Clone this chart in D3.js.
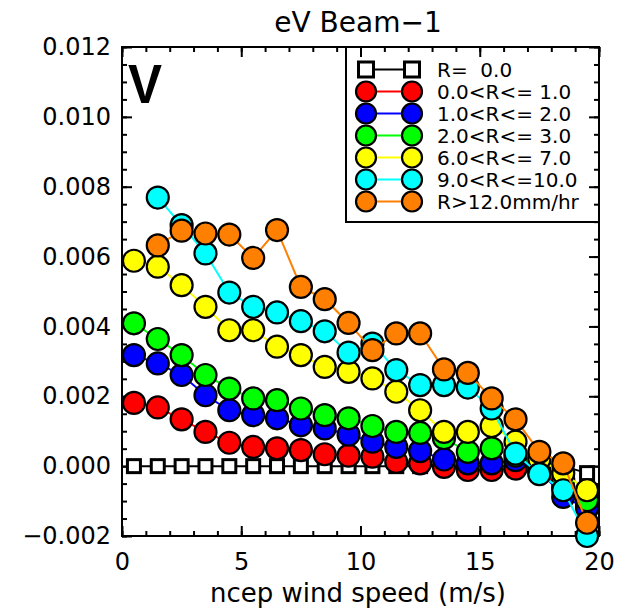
<!DOCTYPE html>
<html>
<head>
<meta charset="utf-8">
<script src="https://cdn.jsdelivr.net/npm/d3@7"></script>
<style>
  body { margin: 0; background: #fff; }
  svg text { font-family: 'DejaVu Sans', sans-serif; fill: #000; }
</style>
</head>
<body>
<script>
// bin centres of the wind speed (m/s)
var windSpeed = [0.5, 1.5, 2.5, 3.5, 4.5, 5.5, 6.5, 7.5, 8.5, 9.5,
                 10.5, 11.5, 12.5, 13.5, 14.5, 15.5, 16.5, 17.5, 18.5, 19.5];

var rain0  = [0, 0, 0, 0, 0, 0, 0, 0, 0, 0,
              0, 0, 0, 0, 0, 0, 0, 0, 0, -0.0002];
var rain1  = [0.00181, 0.00168, 0.00134, 0.00098, 0.00067, 0.00055, 0.00051, 0.00046, 0.00034, 0.00030,
              0.00027, 0.00012, 0.00008, -0.00002, -0.00011, -0.00011, -0.00007, -0.0002, -0.0006, -0.0011];
var rain2  = [0.00318, 0.00294, 0.00261, 0.00203, 0.00160, 0.00146, 0.00137, 0.00117, 0.00108, 0.00090,
              0.00070, 0.00055, 0.00043, 0.00019, 0.00008, 0.00008, 0.00017, -0.0001, -0.00088, -0.00121];
var rain3  = [0.00409, 0.00364, 0.00318, 0.00261, 0.00222, 0.00194, 0.00189, 0.00165, 0.00146, 0.00137,
              0.00115, 0.00098, 0.00095, 0.00080, 0.00041, 0.00051, 0.00030, 0.0000, -0.0004, -0.00097];
var rain7  = [0.00588, 0.00571, 0.00518, 0.00456, 0.00389, 0.00389, 0.00342, 0.00318, 0.00284, 0.00270,
              0.00251, 0.00213, 0.00160, 0.00098, 0.00098, 0.00115, 0.00070, 0.0002, -0.0002, -0.00069];
var rain10 = [null, 0.00769, 0.00690, 0.00609, 0.00497, 0.00456, 0.00440, 0.00415, 0.00386, 0.00325,
              0.00351, 0.00275, 0.00232, 0.00232, 0.00225, 0.00165, 0.00036, -0.00023, -0.00069, -0.0020];
var rain12 = [null, 0.00632, 0.00674, 0.00666, 0.00663, 0.00596, 0.00676, 0.00513, 0.00478, 0.00410,
              0.00332, 0.00380, 0.00380, 0.00277, 0.00267, 0.00194, 0.00134, 0.00041, 0.00008, -0.00162];

var legendLabels = ['R=  0.0', '0.0<R<= 1.0', '1.0<R<= 2.0', '2.0<R<= 3.0',
                    '6.0<R<= 7.0', '9.0<R<=10.0', 'R>12.0mm/hr'];
var xTicks = [0, 5, 10, 15, 20];
var yTicks = [-0.002, 0, 0.002, 0.004, 0.006, 0.008, 0.010, 0.012];

var colors = ['#ffffff', '#ff0000', '#0000ff', '#00ff00', '#ffff00', '#00ffff', '#ff7f00'];
var lineColors = ['#000000', '#ff0000', '#0000ff', '#00ff00', '#ffff00', '#00ffff', '#ff7f00'];
var allSeries = [rain0, rain1, rain2, rain3, rain7, rain10, rain12];

var svgWidth = 617, svgHeight = 612,
    margin = { top: 47, right: 18, bottom: 76, left: 122 },
    chartWidth  = svgWidth  - margin.left - margin.right,
    chartHeight = svgHeight - margin.top  - margin.bottom;

var x = d3.scaleLinear().domain([0, 20]).range([0, chartWidth]);
var y = d3.scaleLinear().domain([-0.002, 0.012]).range([chartHeight, 0]);

var svg = d3.select('body').append('svg')
  .attr('width', svgWidth)
  .attr('height', svgHeight);

var g = svg.append('g')
  .attr('transform', 'translate(' + margin.left + ',' + margin.top + ')');

function styleAxis (sel) {
  sel.select('.domain').remove();
  sel.selectAll('.tick line').attr('stroke', '#000').attr('stroke-width', 2);
  sel.selectAll('text').attr('font-size', 24).attr('font-family', 'DejaVu Sans');
}

function addAxes () {
  var minorX = d3.range(0, 21, 1), minorY = d3.range(-0.002, 0.01201, 0.0005);

  // bottom / top
  g.append('g').attr('transform', 'translate(0,' + chartHeight + ')')
    .call(d3.axisBottom(x).tickValues(minorX).tickSize(-5).tickFormat(''))
    .call(styleAxis);
  g.append('g').attr('transform', 'translate(0,' + chartHeight + ')')
    .call(d3.axisBottom(x).tickValues(xTicks).tickSizeInner(-10).tickSizeOuter(0).tickPadding(17).tickFormat(d3.format('d')))
    .call(styleAxis);
  g.append('g')
    .call(d3.axisTop(x).tickValues(minorX).tickSize(-5).tickFormat(''))
    .call(styleAxis);
  g.append('g')
    .call(d3.axisTop(x).tickValues(xTicks).tickSize(-10).tickFormat(''))
    .call(styleAxis);

  // left / right
  g.append('g')
    .call(d3.axisLeft(y).tickValues(minorY).tickSize(-5).tickFormat(''))
    .call(styleAxis);
  g.append('g')
    .call(d3.axisLeft(y).tickValues(yTicks).tickSizeInner(-10).tickSizeOuter(0).tickPadding(11).tickFormat(d3.format('.3f')))
    .call(styleAxis);
  g.append('g').attr('transform', 'translate(' + chartWidth + ',0)')
    .call(d3.axisRight(y).tickValues(minorY).tickSize(-5).tickFormat(''))
    .call(styleAxis);
  g.append('g').attr('transform', 'translate(' + chartWidth + ',0)')
    .call(d3.axisRight(y).tickValues(yTicks).tickSize(-10).tickFormat(''))
    .call(styleAxis);

  g.append('rect')
    .attr('width', chartWidth)
    .attr('height', chartHeight)
    .attr('fill', 'none')
    .attr('stroke', '#000')
    .attr('stroke-width', 2);
}

function drawSymbol (sel, i, size) {
  if (i === 0) {
    sel.append('rect')
      .attr('x', -size / 2).attr('y', -size / 2)
      .attr('width', size).attr('height', size)
      .attr('fill', '#fff')
      .attr('stroke', '#000')
      .attr('stroke-width', 3);
  } else {
    sel.append('circle')
      .attr('r', size)
      .attr('fill', colors[i])
      .attr('stroke', '#000')
      .attr('stroke-width', 2.2);
  }
}

function drawSeries () {
  allSeries.forEach(function (values, i) {
    var pts = windSpeed.map(function (w, k) { return { w: w, v: values[k] }; })
      .filter(function (d) { return d.v !== null; });

    var line = d3.line()
      .x(function (d) { return x(d.w); })
      .y(function (d) { return y(d.v); });

    g.append('path')
      .datum(pts)
      .attr('d', line)
      .attr('fill', 'none')
      .attr('stroke', lineColors[i])
      .attr('stroke-width', 2);

    g.selectAll('.pt' + i)
      .data(pts)
      .enter().append('g')
      .attr('class', 'pt' + i)
      .attr('transform', function (d) { return 'translate(' + x(d.w) + ',' + y(d.v) + ')'; })
      .each(function () { drawSymbol(d3.select(this), i, i === 0 ? 13 : 11); });
  });
}

function drawLegend () {
  var lg = svg.append('g');
  lg.append('path')
    .attr('d', 'M346,47V222H599')
    .attr('fill', 'none')
    .attr('stroke', '#000')
    .attr('stroke-width', 2);

  legendLabels.forEach(function (label, i) {
    var yy = 69.5 + i * 22;
    lg.append('line')
      .attr('x1', 366).attr('x2', 412)
      .attr('y1', yy).attr('y2', yy)
      .attr('stroke', lineColors[i])
      .attr('stroke-width', 2);
    [366, 412].forEach(function (xx) {
      var s = lg.append('g').attr('transform', 'translate(' + xx + ',' + yy + ')');
      drawSymbol(s, i, i === 0 ? 15 : 10);
    });
    lg.append('text')
      .attr('x', 437)
      .attr('y', yy)
      .attr('dy', '0.36em')
      .attr('font-size', 20)
      .style('white-space', 'pre')
      .text(label);
  });
}

addAxes();
drawSeries();
drawLegend();

svg.append('text')
  .attr('x', 358).attr('y', 32)
  .attr('text-anchor', 'middle')
  .attr('font-size', 28)
  .text('eV Beam\u22121');

svg.append('text')
  .attr('x', 358).attr('y', 602)
  .attr('text-anchor', 'middle')
  .attr('font-size', 26)
  .text('ncep wind speed (m/s)');

svg.append('text')
  .attr('x', 128).attr('y', 103)
  .attr('font-size', 56)
  .attr('font-weight', 'bold')
  .attr('textLength', 34)
  .attr('lengthAdjust', 'spacingAndGlyphs')
  .style('font-family', 'Liberation Sans')
  .text('V');
</script>
</body>
</html>
